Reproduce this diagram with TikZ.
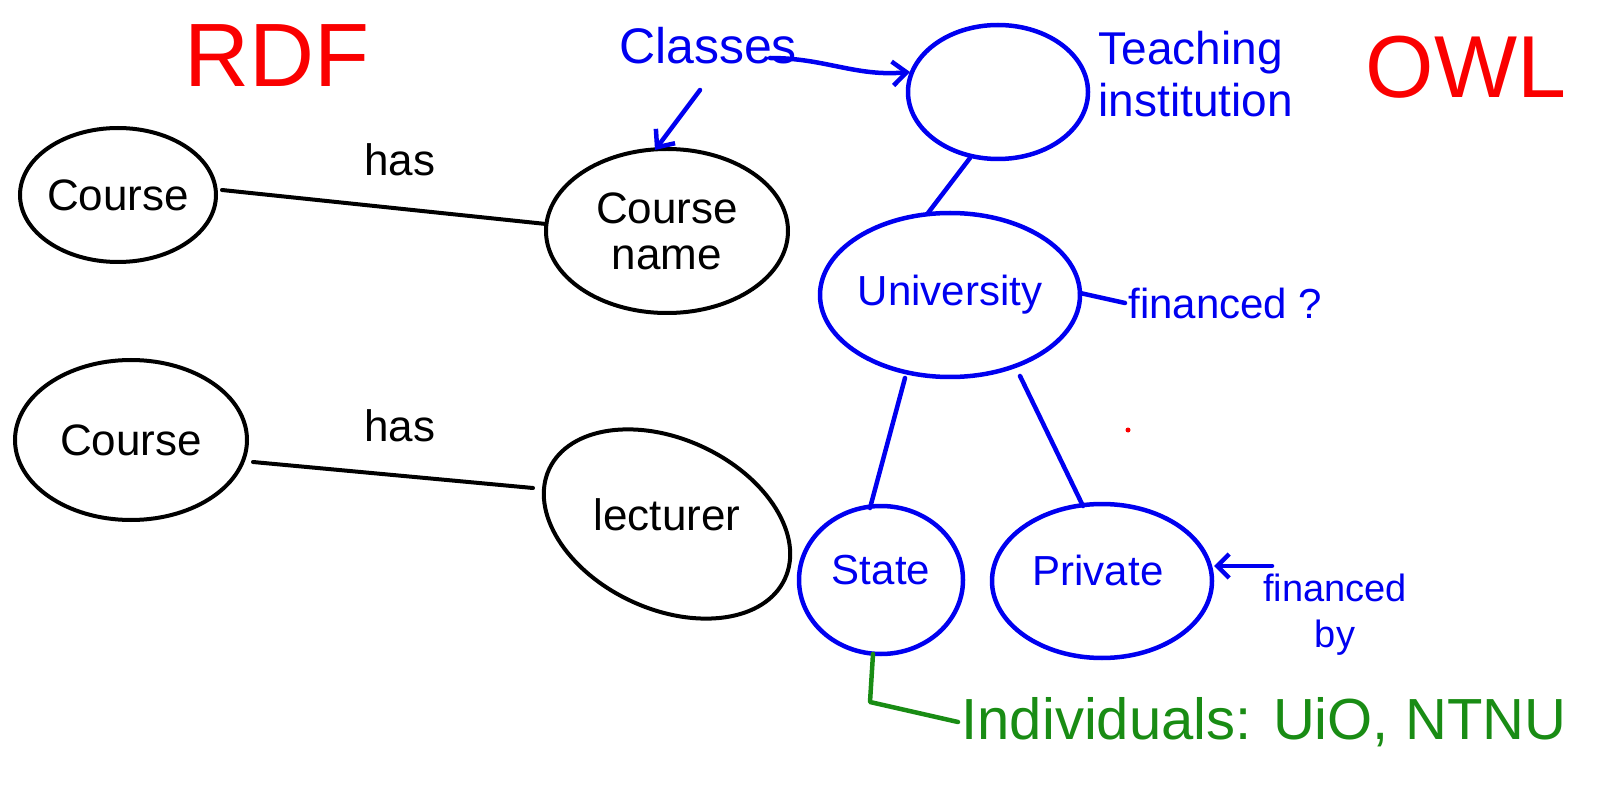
\documentclass[tikz,border=0pt]{standalone}
\usepackage{fontspec}
\setmainfont{Liberation Sans}
\usetikzlibrary{arrows.meta}
\definecolor{inkblue}{RGB}{0,0,240}
\definecolor{inkred}{RGB}{250,0,0}
\definecolor{inkgreen}{RGB}{25,140,20}
\tikzset{
  blu/.style={draw=inkblue, line width=4.5pt},
  bigred/.style={text=inkred, font=\fontsize{90}{90}\selectfont},
  txt/.style={font=\fontsize{44}{46}\selectfont, align=center},
  bluetxt/.style={text=inkblue, font=\fontsize{44}{48}\selectfont},
  conn/.style={line width=4pt, line cap=round},
  bconn/.style={draw=inkblue, line width=4.5pt, line cap=round},
}
\begin{document}
\begin{tikzpicture}[x=1pt,y=-1pt]
\useasboundingbox (0,0) rectangle (1610,810);
% titles
\node[bigred] (rdf) at (277,56) {RDF};
\node[bigred, font=\fontsize{88}{88}\selectfont] (owl) at (1466,67) {OWL};
% RDF side
\draw[conn] (118,195) ellipse [x radius=98, y radius=67];
\node[txt] (c1) at (118,195) {Course};
\coordinate (c1e) at (222,190);
\draw[conn] (667,231) ellipse [x radius=121, y radius=82];
\node[txt] (cn) at (667,231) {Course\\name};
\coordinate (cnw) at (546,224);
\coordinate (cnn) at (655,150);
\draw[conn] (c1e) -- (cnw);
\node[txt] (has1) at (400,160) {has};

\draw[conn] (131,440) ellipse [x radius=116, y radius=80];
\node[txt] (c2) at (131,440) {Course};
\coordinate (c2e) at (253,462);
\draw[conn, rotate around={-25:(667,524)}] (667,524) ellipse [x radius=130, y radius=85];
\node[txt] (lec) at (667,515) {lecturer};
\coordinate (lecw) at (533,488);
\draw[conn] (c2e) -- (lecw);
\node[txt] (has2) at (400,426) {has};

% OWL side
\draw[blu] (998,92) ellipse [x radius=90, y radius=67];
\coordinate (tw) at (910,72);
\coordinate (ts) at (970,158);
\node[bluetxt, anchor=west, align=left, font=\fontsize{46}{52}\selectfont] (ti) at (1095,74) {Teaching\\institution};
\node[bluetxt, font=\fontsize{50}{50}\selectfont] (cls) at (708,46) {Classes};
\coordinate (clsE) at (770,58);
\draw[bconn, -{Straight Barb[length=14pt,width=24pt]}] (clsE) to[out=0,in=185] (tw);
\coordinate (clsS) at (700,90);
\draw[bconn, -{Straight Barb[length=14pt,width=24pt]}] (clsS) -- (cnn);

\draw[blu] (950,295) ellipse [x radius=130, y radius=82];
\node[bluetxt, font=\fontsize{42}{42}\selectfont] (uni) at (950,295) {University};
\coordinate (un) at (928,213);
\coordinate (ue) at (1080,293);
\coordinate (us1) at (905,378);
\coordinate (us2) at (1020,376);
\draw[bconn] (ts) -- (un);
\node[bluetxt, anchor=west, font=\fontsize{42}{42}\selectfont] (fin) at (1125,303) {financed ?};
\draw[bconn] (ue) -- (fin.west);

\draw[blu] (881,580) ellipse [x radius=82, y radius=74];
\node[bluetxt, font=\fontsize{42}{42}\selectfont] (st) at (881,570) {State};
\coordinate (stn) at (870,508);
\coordinate (sts) at (873,654);
\draw[blu] (1102,581) ellipse [x radius=110, y radius=77];
\node[bluetxt, font=\fontsize{42}{42}\selectfont] (pr) at (1098,570) {Private};
\coordinate (prn) at (1083,506);
\coordinate (pre) at (1214,566);
\draw[bconn] (us1) -- (stn);
\draw[bconn] (us2) -- (prn);
\node[bluetxt, align=center, font=\fontsize{38}{46}\selectfont] (fb) at (1335,615) {financed\\by};
\coordinate (fbw) at (1272,566);
\draw[bconn, -{Straight Barb[length=12pt,width=24pt]}] (fbw) -- (pre);

% individuals
\node[text=inkgreen, anchor=west, font=\fontsize{58}{58}\selectfont] (ind) at (958,722) {Individuals: UiO, NTNU};
\coordinate (gc) at (870,702);
\draw[draw=inkgreen, line width=4.5pt, line cap=round, line join=round] (sts) -- (gc) -- (ind.west);

% stray dot
\fill[inkred] (1128,430) circle (2.5);
\end{tikzpicture}
\end{document}
